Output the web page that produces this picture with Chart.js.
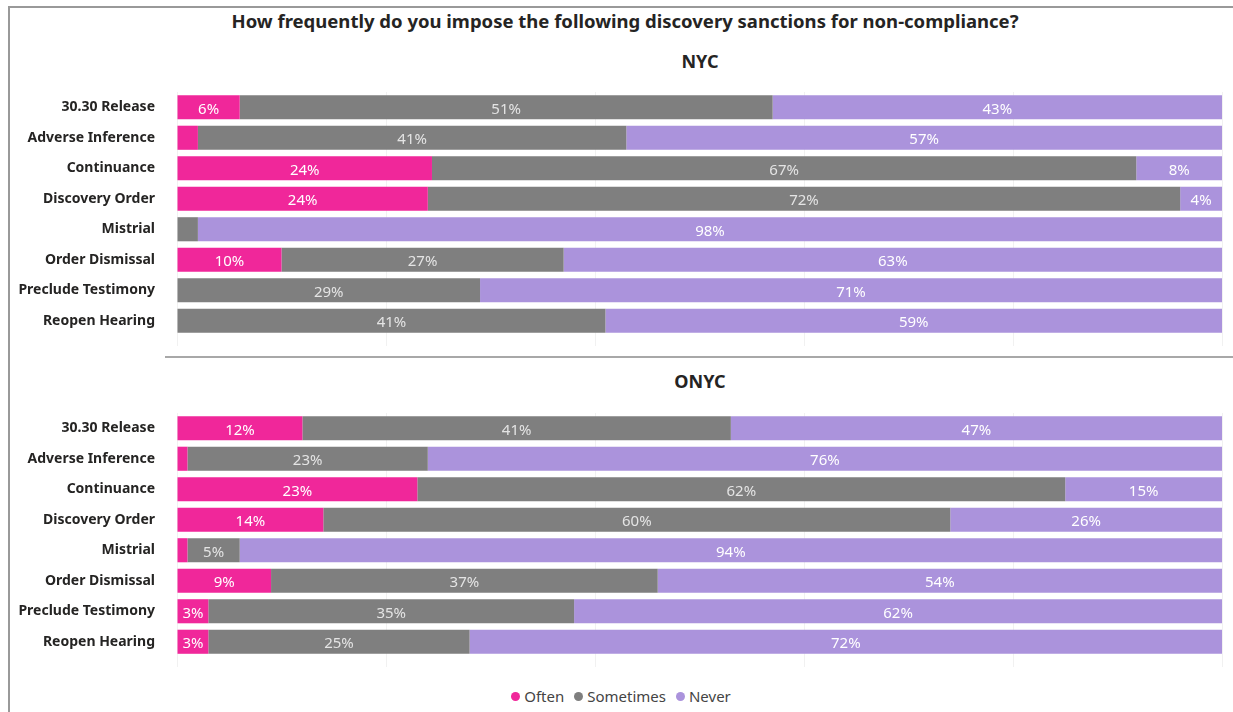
<!DOCTYPE html>
<html>
<head>
<meta charset="utf-8">
<script src="https://cdn.jsdelivr.net/npm/chart.js@4.4.1/dist/chart.umd.min.js"></script>
<style>
	html, body { margin: 0; padding: 0; background: #fff; }
	body { width: 1233px; height: 712px; position: relative; overflow: hidden; font-family: 'Noto Sans', sans-serif; color: #252423; }
	.frame { position: absolute; left: 8px; top: 6px; width: 1240px; height: 720px; border-left: 2px solid #999; border-top: 2px solid #999; }
	.title { position: absolute; left: 0; width: 1250px; top: 8px; text-align: center; font-weight: bold; font-size: 18.5px; }
	.sub { position: absolute; left: 600px; width: 200px; text-align: center; font-weight: bold; font-size: 18px; }
	.divider { position: absolute; left: 165px; top: 356px; width: 1070px; height: 0; border-top: 2px solid #a8a8a8; }
	canvas { position: absolute; left: 0; }
	.legend { position: absolute; top: 686px; left: 0; width: 1242px; text-align: center; font-size: 15px; color: #444; }
	.legend span { margin: 0 5px; }
	.legend i { display: inline-block; width: 9px; height: 9px; border-radius: 50%; margin-right: 4px; vertical-align: 1px; }
</style>
</head>
<body>
<div class="frame"></div>
<div class="title">How frequently do you impose the following discovery sanctions for non-compliance?</div>
<div class="sub" style="top:49px">NYC</div>
<div class="divider"></div>
<div class="sub" style="top:369px">ONYC</div>
<canvas id="chartNyc" width="1233" height="266" style="top:80px"></canvas>
<canvas id="chartOnyc" width="1233" height="267" style="top:400px"></canvas>
<div class="legend" id="legend-div"></div>
<script>
/* 제재 유형 */
var sanctions = ['30.30 Release', 'Adverse Inference', 'Continuance', 'Discovery Order', 'Mistrial', 'Order Dismissal', 'Preclude Testimony', 'Reopen Hearing'];
var seriesNames = ['Often', 'Sometimes', 'Never'];
var seriesColors = ['#F0279A', '#7F7F7F', '#AB93DC'];
var labelColors = ['#ffffff', '#e4e4e4', '#ffffff'];
var xTicks = [0, 20, 40, 60, 80, 100];

// NYC (%)
var nycOften = [6, 2, 24.4, 24, 0, 10, 0, 0];
var nycSometimes = [51, 41, 67.4, 72, 2, 27, 29, 41];
var nycNever = [43, 57, 8.2, 4, 98, 63, 71, 59];

// ONYC (%)
var onycOften = [12, 1, 23, 14, 1, 9, 3, 3];
var onycSometimes = [41, 23, 62, 60, 5, 37, 35, 25];
var onycNever = [47, 76, 15, 26, 94, 54, 62, 72];

// 막대 안 퍼센트 표시 (3% 미만은 생략)
const barLabelPlugin = {
	id: 'barLabelPlugin',
	afterDatasetsDraw(chart) {
		const ctx = chart.ctx;
		ctx.save();
		ctx.font = '15px "Noto Sans"';
		ctx.textAlign = 'center';
		ctx.textBaseline = 'middle';
		chart.data.datasets.forEach(function (ds, di) {
			const meta = chart.getDatasetMeta(di);
			meta.data.forEach(function (bar, i) {
				const v = ds.data[i];
				if (v < 3) return;
				const cx = (bar.x + bar.base) / 2;
				ctx.fillStyle = labelColors[di];
				ctx.fillText(Math.round(v) + '%', cx, bar.y + 2);
			});
		});
		ctx.restore();
	}
};

function stackedBar(canvasId, often, sometimes, never, padTop) {
	var chartDataset = {
		labels: sanctions,
		datasets: [often, sometimes, never].map(function (d, k) {
			return {
				label: seriesNames[k],
				data: d,
				backgroundColor: seriesColors[k],
				borderWidth: 0,
				barPercentage: 0.79,
				categoryPercentage: 1
			};
		})
	};

	var chartOption = {
		indexAxis: 'y',
		responsive: false,
		animation: false,
		layout: {
			padding: { left: 0, right: 11, top: padTop, bottom: 0 }
		},
		plugins: {
			legend: { display: false },
			tooltip: { enabled: false }
		},
		scales: {
			x: {
				stacked: true,
				min: 0,
				max: 100,
				afterBuildTicks: function (scale) {
					scale.ticks = xTicks.map(function (v) { return { value: v }; });
				},
				afterFit: function (scale) {
					scale.height = 10;
					scale.paddingLeft = 0;
					scale.paddingRight = 0;
				},
				ticks: { display: false },
				grid: {
					color: '#f1f1f1',
					drawTicks: true,
					tickLength: 10
				},
				border: { display: false }
			},
			y: {
				stacked: true,
				afterFit: function (scale) {
					scale.width = 177;
					scale.paddingTop = 0;
					scale.paddingBottom = 0;
				},
				ticks: {
					color: '#252423',
					padding: 22,
					font: { size: 14, weight: 'bold', family: '"Noto Sans"' }
				},
				grid: { display: false, drawTicks: false },
				border: { display: false }
			}
		}
	};

	return new Chart(document.getElementById(canvasId), {
		type: 'bar',
		data: chartDataset,
		options: chartOption,
		plugins: [barLabelPlugin]
	});
}

stackedBar('chartNyc', nycOften, nycSometimes, nycNever, 12);
stackedBar('chartOnyc', onycOften, onycSometimes, onycNever, 13);

// 범례
document.getElementById('legend-div').innerHTML = seriesNames.map(function (n, k) {
	return '<span><i style="background:' + seriesColors[k] + '"></i>' + n + '</span>';
}).join('');
</script>
</body>
</html>
